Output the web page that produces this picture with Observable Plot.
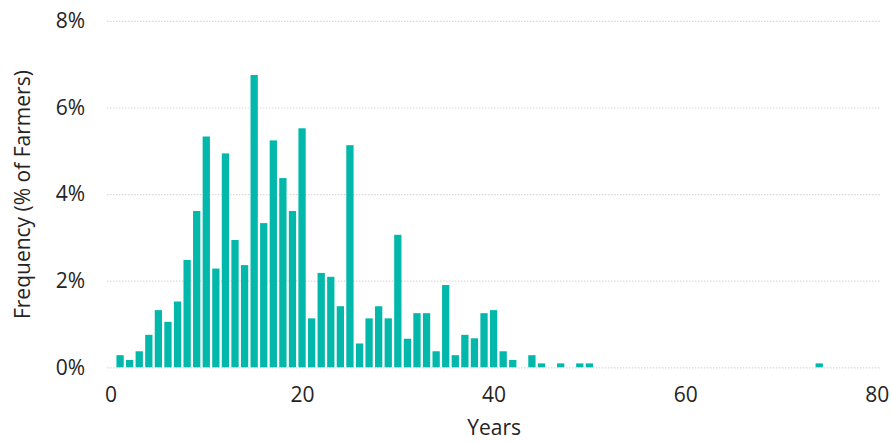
<!DOCTYPE html>
<html>
<head>
<meta charset="utf-8">
<script src="https://cdn.jsdelivr.net/npm/d3@7"></script>
<script src="https://cdn.jsdelivr.net/npm/@observablehq/plot@0.6"></script>
<style>
  html, body { margin: 0; padding: 0; background: #fff; }
</style>
</head>
<body>
<div id="chart"></div>
<script>
const years  = [1,2,3,4,5,6,7,8,9,10,11,12,13,14,15,16,17,18,19,20,21,22,23,24,25,26,27,28,29,30,31,32,33,34,35,36,37,38,39,40,41,42,44,45,47,49,50,74];
const values = [0.28,0.17,0.37,0.75,1.32,1.05,1.52,2.48,3.61,5.33,2.28,4.94,2.94,2.36,6.75,3.33,5.24,4.37,3.61,5.52,1.13,2.18,2.09,1.41,5.13,0.55,1.13,1.41,1.13,3.06,0.66,1.25,1.25,0.37,1.90,0.28,0.75,0.67,1.25,1.32,0.37,0.17,0.28,0.09,0.09,0.09,0.09,0.09];
const xTicks = [0,20,40,60,80];
const yTicks = [0,2,4,6,8];
const xLabel = "Years";
const yLabel = "Frequency (% of Farmers)";

const data = years.map((y, i) => ({year: y, value: values[i]}));
const half = 0.38;

const chart = Plot.plot({
  width: 892,
  height: 443,
  marginLeft: 110.5,
  marginRight: 15.3,
  marginTop: 20.9,
  marginBottom: 75.7,
  style: {fontFamily: "'Open Sans', sans-serif", fontSize: "21px", color: "#252423", background: "#fff"},
  x: {domain: [0, 80]},
  y: {domain: [0, 8]},
  marks: [
    Plot.ruleY(yTicks, {stroke: "#d9d9d9", strokeWidth: 1.2, strokeDasharray: "1.5,1.5", insetLeft: -3.5, insetRight: -4.3}),
    Plot.rectY(data, {x1: d => d.year - half, x2: d => d.year + half, y: "value", fill: "#01B8AA"}),
    Plot.axisX({ticks: xTicks, tickSize: 0, tickPadding: 19, label: null, fontSize: 21}),
    Plot.axisY({ticks: yTicks, tickSize: 0, tickPadding: 26, tickFormat: d => d + "%", label: null, fontSize: 21}),
    Plot.text([xLabel], {frameAnchor: "bottom", dy: 67, fontSize: 21}),
    Plot.text([yLabel], {frameAnchor: "left", textAnchor: "middle", dx: -87.5, rotate: -90, fontSize: 21})
  ]
});
document.getElementById("chart").appendChild(chart);
</script>
</body>
</html>
